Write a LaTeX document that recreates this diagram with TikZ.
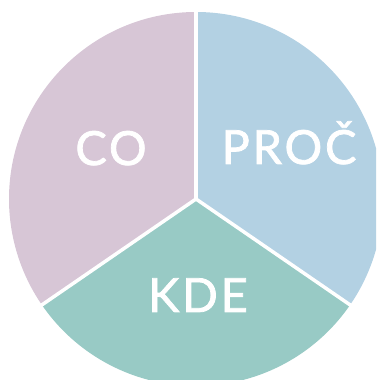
\documentclass[tikz,border=0pt]{standalone}
\usepackage{fontspec}
\setmainfont{Lato}
\newfontfamily\pieFont{Lato}[FakeBold=1.6, LetterSpace=6]
\definecolor{coPink}{RGB}{215,198,214}
\definecolor{procBlue}{RGB}{179,209,227}
\definecolor{kdeTeal}{RGB}{152,202,197}
\tikzstyle{divider} = [draw=white, line width=3.5pt]
\tikzstyle{word} = [text=white, anchor=base, inner sep=0pt, font=\pieFont\fontsize{47}{47}\selectfont]

\begin{document}
\begin{tikzpicture}[x=1pt, y=1pt]
        \useasboundingbox (0,0) rectangle (376,380);
        \clip (0,0) rectangle (376,380);
        \coordinate (centre) at (196,181);

        % Sectors
        \fill [coPink] (centre) -- ++(90:187) arc [start angle=90, end angle=214.5, radius=187] -- cycle;
        \fill [procBlue] (centre) -- ++(90:187) arc [start angle=90, end angle=-34.5, radius=187] -- cycle;
        \fill [kdeTeal] (centre) -- ++(214.5:187) arc [start angle=214.5, end angle=325.5, radius=187] -- cycle;

        % Dividers
        \draw [divider] (centre) -- ++(90:195);
        \draw [divider] (centre) -- ++(214.5:195);
        \draw [divider] (centre) -- ++(-34.5:195);

        % Labels
        \node (co) [word] at (111,215) {CO};
        \node (proc) [word] at (289,216) {PROČ};
        \node (kde) [word] at (198,68) {KDE};
\end{tikzpicture}
\end{document}
